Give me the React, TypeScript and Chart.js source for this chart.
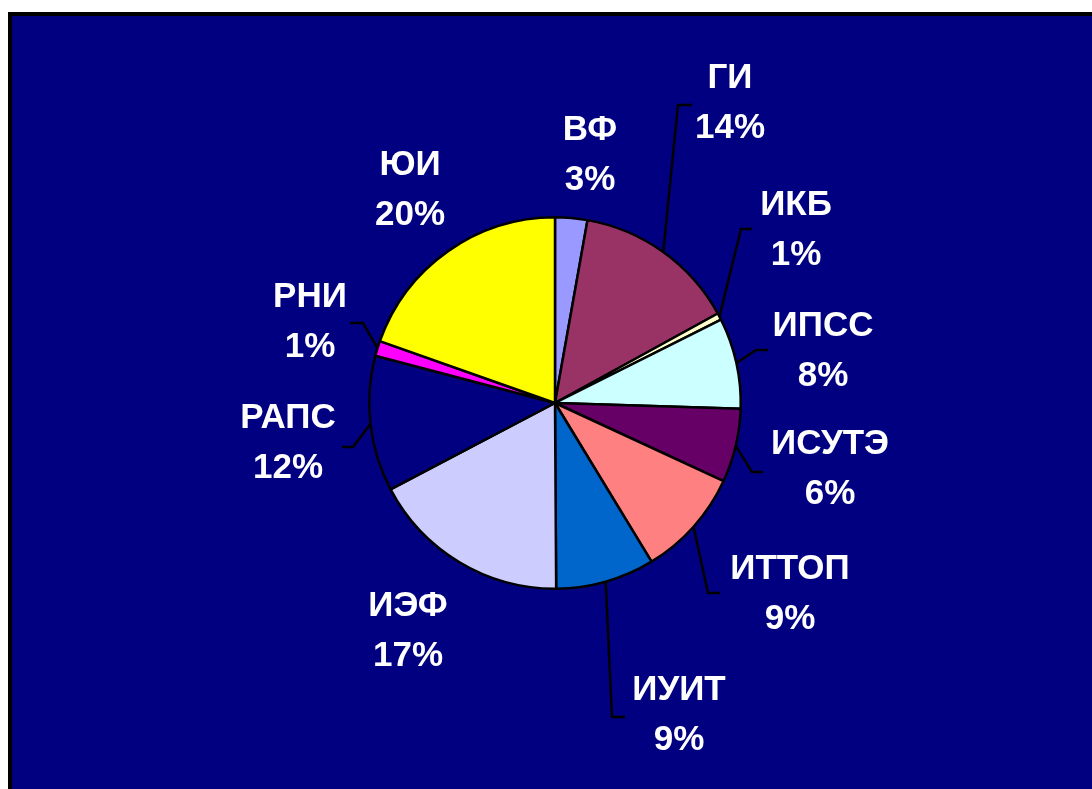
import React, { useEffect, useRef } from "react";
import { Chart, registerables } from "chart.js";

Chart.register(...registerables);

// ---- data ----
const categories = ["ВФ", "ГИ", "ИКБ", "ИПСС", "ИСУТЭ", "ИТТОП", "ИУИТ", "ИЭФ", "РАПС", "РНИ", "ЮИ"];
const shares = [2.8, 14.2, 0.6, 7.9, 6.4, 9.4, 8.6, 17.4, 11.8, 1.3, 19.6];
const sliceColors = [
  "#9999FF", "#993366", "#FFFFCC", "#CCFFFF", "#660066", "#FF8080",
  "#0066CC", "#CCCCFF", "#000080", "#FF00FF", "#FFFF00",
];

// ---- layout (offsets from the pie centre, px) ----
const labelOffsets: [number, number][] = [
  [35, -248], [175, -300], [241, -173], [268, -52], [275, 66], [235, 191],
  [124, 312], [-147, 228], [-267, 40], [-245, -81], [-145, -213],
];
const leaderOffsets: ([number, number][] | null)[] = [
  null,
  [[123, -298], [137, -298]],
  [[186, -174], [197, -174]],
  [[201, -53], [213, -53]],
  [[197, 69], [208, 69]],
  [[153, 190], [165, 190]],
  [[57, 314], [70, 314]],
  null,
  [[-202, 44], [-213, 44]],
  [[-192, -80], [-205, -80]],
  null,
];

const labelPlugin = {
  id: "pieLabels",
  afterDatasetsDraw(chart: any) {
    const ctx = chart.ctx as CanvasRenderingContext2D;
    const meta = chart.getDatasetMeta(0);
    const total = shares.reduce((a, b) => a + b, 0);
    ctx.save();
    meta.data.forEach((arc: any, i: number) => {
      const p = arc.getProps(["x", "y", "startAngle", "endAngle", "outerRadius"], true);
      const cx = p.x, cy = p.y;
      const mid = (p.startAngle + p.endAngle) / 2;
      const leader = leaderOffsets[i];
      if (leader) {
        ctx.beginPath();
        ctx.strokeStyle = "#000000";
        ctx.lineWidth = 2.5;
        ctx.moveTo(cx + Math.cos(mid) * p.outerRadius, cy + Math.sin(mid) * p.outerRadius);
        leader.forEach(([dx, dy]) => ctx.lineTo(cx + dx, cy + dy));
        ctx.stroke();
      }
      const [lx, ly] = labelOffsets[i];
      ctx.fillStyle = "#FFFFFF";
      ctx.font = "bold 35px 'Liberation Sans', Arial, sans-serif";
      ctx.textAlign = "center";
      ctx.textBaseline = "middle";
      const pct = Math.round((shares[i] / total) * 100) + "%";
      ctx.fillText(categories[i], cx + lx, cy + ly - 25);
      ctx.fillText(pct, cx + lx, cy + ly + 25);
    });
    ctx.restore();
  },
};

export default function App() {
  const canvasRef = useRef<HTMLCanvasElement | null>(null);

  useEffect(() => {
    if (!canvasRef.current) return;
    const chart = new Chart(canvasRef.current, {
      type: "pie",
      data: {
        labels: categories,
        datasets: [
          {
            data: shares,
            backgroundColor: sliceColors,
            borderColor: "#000000",
            borderWidth: 2.5,
          },
        ],
      },
      options: {
        animation: false,
        responsive: true,
        maintainAspectRatio: false,
        layout: { padding: { left: 303, right: 297, top: 200, bottom: 199 } },
        plugins: {
          legend: { display: false },
          tooltip: { enabled: false },
        },
      },
      plugins: [labelPlugin],
    });
    return () => chart.destroy();
  }, []);

  return (
    <div
      style={{
        position: "fixed",
        left: 8,
        top: 12,
        right: 0,
        bottom: 0,
        borderTop: "4px solid #000",
        borderLeft: "4px solid #000",
        background: "#000080",
      }}
    >
      <div style={{ position: "relative", width: "100%", height: "100%" }}>
        <canvas ref={canvasRef} />
      </div>
    </div>
  );
}
